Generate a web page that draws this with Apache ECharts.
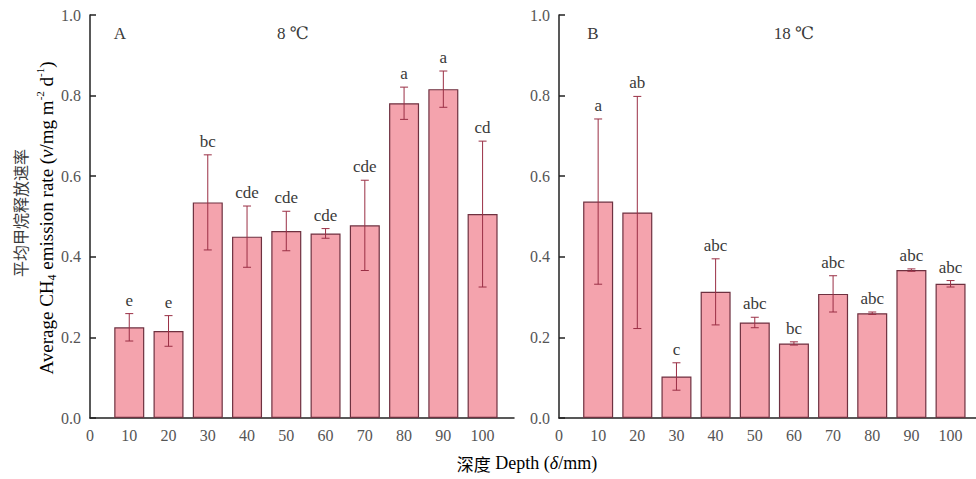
<!DOCTYPE html>
<html>
<head>
<meta charset="utf-8">
<script src="https://cdn.jsdelivr.net/npm/echarts@6/dist/echarts.min.js"></script>
<style>html,body{margin:0;padding:0;background:#fff;}#c{width:976px;height:479px;}</style>
</head>
<body>
<div id="c"></div>
<script>
// ---- data ----
const depths = [10, 20, 30, 40, 50, 60, 70, 80, 90, 100];
const meanA = [0.225, 0.216, 0.535, 0.450, 0.464, 0.458, 0.478, 0.781, 0.816, 0.506];
const sdA   = [0.034, 0.038, 0.118, 0.076, 0.049, 0.012, 0.112, 0.040, 0.045, 0.181];
const letterA = ['e', 'e', 'bc', 'cde', 'cde', 'cde', 'cde', 'a', 'a', 'cd'];
const meanB = [0.537, 0.510, 0.103, 0.313, 0.237, 0.185, 0.308, 0.260, 0.367, 0.333];
const sdB   = [0.205, 0.288, 0.034, 0.082, 0.013, 0.004, 0.045, 0.003, 0.003, 0.008];
const letterB = ['a', 'ab', 'c', 'abc', 'abc', 'bc', 'abc', 'abc', 'abc', 'abc'];
const yTicks = [0, 0.2, 0.4, 0.6, 0.8, 1.0];
const panelA = 'A', tempA = '8 ℃';
const panelB = 'B', tempB = '18 ℃';

const SERIF = '"Liberation Serif","DejaVu Serif",serif';
const CJK = '"Noto Sans CJK SC",sans-serif';
const textColor = '#3a3a3a';
const labelColor = '#555';
const barFill = '#f4a3ad';
const barBorder = '#6e3140';
const errColor = '#9a2f45';

function xAxis(idx, max) {
  return {
    type: 'value', gridIndex: idx, min: 0, max: max, interval: 10,
    axisLine: { show: true, lineStyle: { color: '#222', width: 1.5 } },
    axisTick: { show: false },
    splitLine: { show: false },
    axisLabel: {
      margin: 9, color: labelColor, fontFamily: SERIF, fontSize: 16,
      formatter: v => (v % 10 === 0 && v <= 100) ? String(v) : '',
      showMaxLabel: false
    }
  };
}
function yAxis(idx) {
  return {
    type: 'value', gridIndex: idx, min: yTicks[0], max: yTicks[yTicks.length - 1], interval: 0.2,
    axisLine: { show: true, lineStyle: { color: '#222', width: 1.5 } },
    axisTick: { show: true, inside: true, length: 6, lineStyle: { color: '#222', width: 1.5 } },
    splitLine: { show: false },
    axisLabel: { margin: 9, color: labelColor, fontFamily: SERIF, fontSize: 16, formatter: v => v.toFixed(1) }
  };
}
function bars(idx, means) {
  return {
    type: 'bar', xAxisIndex: idx, yAxisIndex: idx, barWidth: 30,
    data: depths.map((d, i) => [d, means[i]]),
    itemStyle: { color: barFill, borderColor: barBorder, borderWidth: 1.2 },
    z: 2
  };
}
function errs(idx, means, sds, letters) {
  return {
    type: 'custom', xAxisIndex: idx, yAxisIndex: idx, z: 5,
    data: depths.map((d, i) => [d, means[i], sds[i], i]),
    renderItem: function (params, api) {
      const x = api.value(0), m = api.value(1), s = api.value(2), i = api.value(3);
      const top = api.coord([x, m + s]);
      const bot = api.coord([x, m - s]);
      const cw = 4;
      return {
        type: 'group',
        children: [
          { type: 'line', shape: { x1: top[0], y1: top[1], x2: bot[0], y2: bot[1] }, style: { stroke: errColor, lineWidth: 1 } },
          { type: 'line', shape: { x1: top[0] - cw, y1: top[1], x2: top[0] + cw, y2: top[1] }, style: { stroke: errColor, lineWidth: 1 } },
          { type: 'line', shape: { x1: bot[0] - cw, y1: bot[1], x2: bot[0] + cw, y2: bot[1] }, style: { stroke: errColor, lineWidth: 1 } },
          { type: 'text', x: top[0], y: top[1] - 5, style: { text: letters[i], fill: textColor, font: '17px ' + SERIF, textAlign: 'center', textVerticalAlign: 'bottom' } }
        ]
      };
    }
  };
}

const chart = echarts.init(document.getElementById('c'), null, { renderer: 'svg' });
chart.setOption({
  animation: false,
  backgroundColor: '#fff',
  grid: [
    { left: 90, top: 15, width: 424, height: 403 },
    { left: 559, top: 15, width: 417, height: 403 }
  ],
  xAxis: [xAxis(0, 108), xAxis(1, 106.5)],
  yAxis: [yAxis(0), yAxis(1)],
  series: [
    bars(0, meanA), errs(0, meanA, sdA, letterA),
    bars(1, meanB), errs(1, meanB, sdB, letterB)
  ],
  graphic: [
    { type: 'text', x: 120, y: 33, style: { text: panelA, fill: textColor, font: '17px ' + SERIF, textAlign: 'center', textVerticalAlign: 'middle' } },
    { type: 'text', x: 293, y: 33, style: { text: tempA, fill: textColor, font: '17px ' + SERIF, textAlign: 'center', textVerticalAlign: 'middle' } },
    { type: 'text', x: 593, y: 33, style: { text: panelB, fill: textColor, font: '17px ' + SERIF, textAlign: 'center', textVerticalAlign: 'middle' } },
    { type: 'text', x: 794, y: 33, style: { text: tempB, fill: textColor, font: '17px ' + SERIF, textAlign: 'center', textVerticalAlign: 'middle' } },
    { type: 'text', x: 20, y: 213, rotation: Math.PI / 2,
      style: { text: '平均甲烷释放速率', fill: textColor, font: '16px ' + CJK, textAlign: 'center', textVerticalAlign: 'middle' } },
    { type: 'text', x: 46, y: 218, rotation: Math.PI / 2,
      style: {
        text: '{n|Average CH}{s|4}{n| emission rate (}{i|v}{n|/mg m}{p|-2}{n| d}{p|-1}{n|)}',
        textAlign: 'center', textVerticalAlign: 'middle',
        rich: {
          n: { fontFamily: SERIF, fontSize: 19, color: textColor, lineHeight: 24, verticalAlign: 'middle' },
          i: { fontFamily: SERIF, fontSize: 19, fontStyle: 'italic', color: textColor, lineHeight: 24, verticalAlign: 'middle' },
          s: { fontFamily: SERIF, fontSize: 12, color: textColor, lineHeight: 24, verticalAlign: 'bottom' },
          p: { fontFamily: SERIF, fontSize: 11, color: textColor, lineHeight: 24, verticalAlign: 'top' }
        }
      } },
    { type: 'text', x: 527, y: 463,
      style: {
        text: '{c|深度}{n| Depth (}{i|δ}{n|/mm)}',
        textAlign: 'center', textVerticalAlign: 'middle',
        rich: {
          c: { fontFamily: CJK, fontSize: 17, color: textColor },
          n: { fontFamily: SERIF, fontSize: 18, color: textColor },
          i: { fontFamily: SERIF, fontSize: 18, fontStyle: 'italic', color: textColor }
        }
      } }
  ]
});
</script>
</body>
</html>
